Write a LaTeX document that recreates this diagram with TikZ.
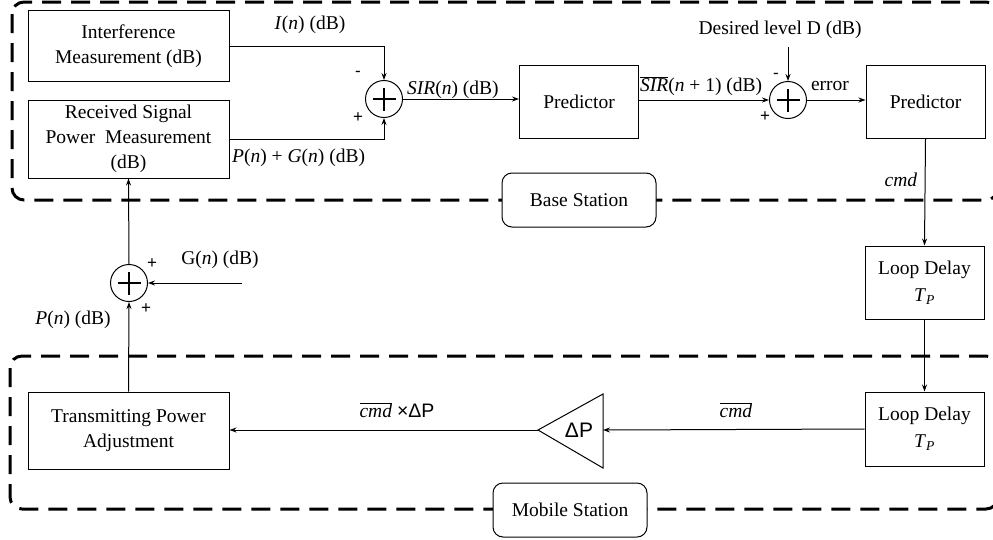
\documentclass[tikz,border=0pt]{standalone}
\usepackage{fontspec}
\setmainfont{Liberation Serif}
\newfontfamily\sansf{Liberation Sans}
\usetikzlibrary{arrows.meta}
\newcommand\dfont{\fontsize{19.5}{25}\selectfont}
\newcommand\wtl[1]{\ensuremath{\overline{\mbox{#1}}}}
\begin{document}
\begin{tikzpicture}[x=1pt,y=-1pt,
  blk/.style={draw,line width=1pt,minimum width=201pt,align=center,font=\dfont,inner sep=2pt},
  sblk/.style={draw,line width=1pt,minimum width=119pt,minimum height=73pt,align=center,font=\dfont},
  sumc/.style={draw,circle,line width=1pt,minimum size=37pt,inner sep=0pt,
    path picture={\draw[line width=1.1pt] ([xshift=-11.5pt]path picture bounding box.center) -- ([xshift=11.5pt]path picture bounding box.center)
      ([yshift=-11.5pt]path picture bounding box.center) -- ([yshift=11.5pt]path picture bounding box.center);}},
  arr/.style={line width=1pt,-{Stealth[length=7pt,width=5pt]}},
  lbl/.style={font=\dfont,inner sep=1pt},
  sgn/.style={font=\sansf\fontsize{17}{17}\selectfont,inner sep=0pt},
  dashbox/.style={line width=3pt,dash pattern=on 19pt off 10pt,rounded corners=12pt},
  station/.style={draw,fill=white,line width=1pt,rounded corners=10pt,minimum width=154pt,minimum height=54pt,font=\dfont}]
\clip (0,0) rectangle (993,539);
\fill[white] (0,0) rectangle (993,539);
% dashed regions
\draw[dashbox] (12,2) rectangle (998,200);
\draw[dashbox] (10,356) rectangle (998,509);
% blocks
\node[blk,minimum height=71pt] (im) at (128.5,46) {Interference\\Measurement (dB)};
\node[blk,minimum height=78pt] (rs) at (128.5,139) {Received Signal\\Power\ \ Measurement\\(dB)};
\node[sumc] (s1) at (384,99) {};
\node[sblk] (p1) at (579,101.5) {Predictor};
\node[sumc] (s2) at (788,100) {};
\node[sblk] (p2) at (925.5,101.5) {Predictor};
\node[sblk] (ld1) at (924.5,282.5) {Loop Delay\\[2pt]\textit{T}\textsubscript{\textit{P}}};
\node[sblk,minimum height=74pt] (ld2) at (924.5,429) {Loop Delay\\[2pt]\textit{T}\textsubscript{\textit{P}}};
\coordinate (triapex) at (538,430);
\coordinate (tribase) at (603,430);
\draw[line width=1pt] (triapex) -- (603,394) -- (603,468) -- cycle;
\node[font=\sansf\fontsize{21}{21}\selectfont,inner sep=0pt] (tri) at (579,430) {ΔP};
\node[blk,minimum height=77pt] (tpa) at (128.5,430.5) {Transmitting Power\\Adjustment};
\node[sumc] (s3) at (129,283) {};
\node[station] (bs) at (579,200) {Base Station};
\node[station] (ms) at (570,510) {Mobile Station};
% connectors
\draw[arr] (im.east) -| (s1.north);
\draw[arr] (rs.east) -| (s1.south);
\draw[arr] (s1.east) -- (s1.east -| p1.west);
\draw[arr] (p1.east |- s2) -- (s2.west);
\node[lbl] (des) at (780,30) {Desired level D (dB)};
\coordinate (dtop) at (788,47);
\draw[arr] (dtop) -- (s2.north);
\draw[arr] (s2.east) -- (s2.east -| p2.west);
\draw[arr] (p2.south) -- (ld1.north);
\draw[arr] (ld1.south) -- (ld2.north);
\draw[arr] (ld2.west) -- (tribase);
\draw[arr] (triapex) -- (triapex -| tpa.east);
\draw[arr] (tpa.north) -- (s3.south);
\coordinate (gin) at (242,283);
\draw[arr] (gin) -- (s3.east);
\draw[arr] (s3.north) -- (rs.south);
% labels
\node[lbl] at (310,25) {\textit{I}(\textit{n}) (dB)};
\node[sgn] at (358,74) {-};
\node[sgn] at (358,118) {+};
\node[lbl,anchor=west] at (231,158) {\textit{P}(\textit{n}) + \textit{G}(\textit{n}) (dB)};
\node[lbl,anchor=west] at (406,90) {\textit{SIR}(\textit{n}) (dB)};
\node[lbl,anchor=west] at (639,86) {\wtl{\textit{SIR}}(\textit{n} + 1) (dB)};
\node[sgn] at (776,76) {-};
\node[sgn] at (765,117) {+};
\node[lbl] at (830,86) {error};
\node[lbl] at (901,180) {\textit{cmd}};
\node[lbl] at (220,260) {G(\textit{n}) (dB)};
\node[sgn] at (152,264) {+};
\node[sgn] at (146,309) {+};
\node[lbl] at (73,320) {\textit{P}(\textit{n}) (dB)};
\node[lbl] at (397,410) {\wtl{\textit{cmd}} {\sansf ×ΔP}};
\node[lbl] at (736,410) {\wtl{\textit{cmd}}};
\end{tikzpicture}
\end{document}
